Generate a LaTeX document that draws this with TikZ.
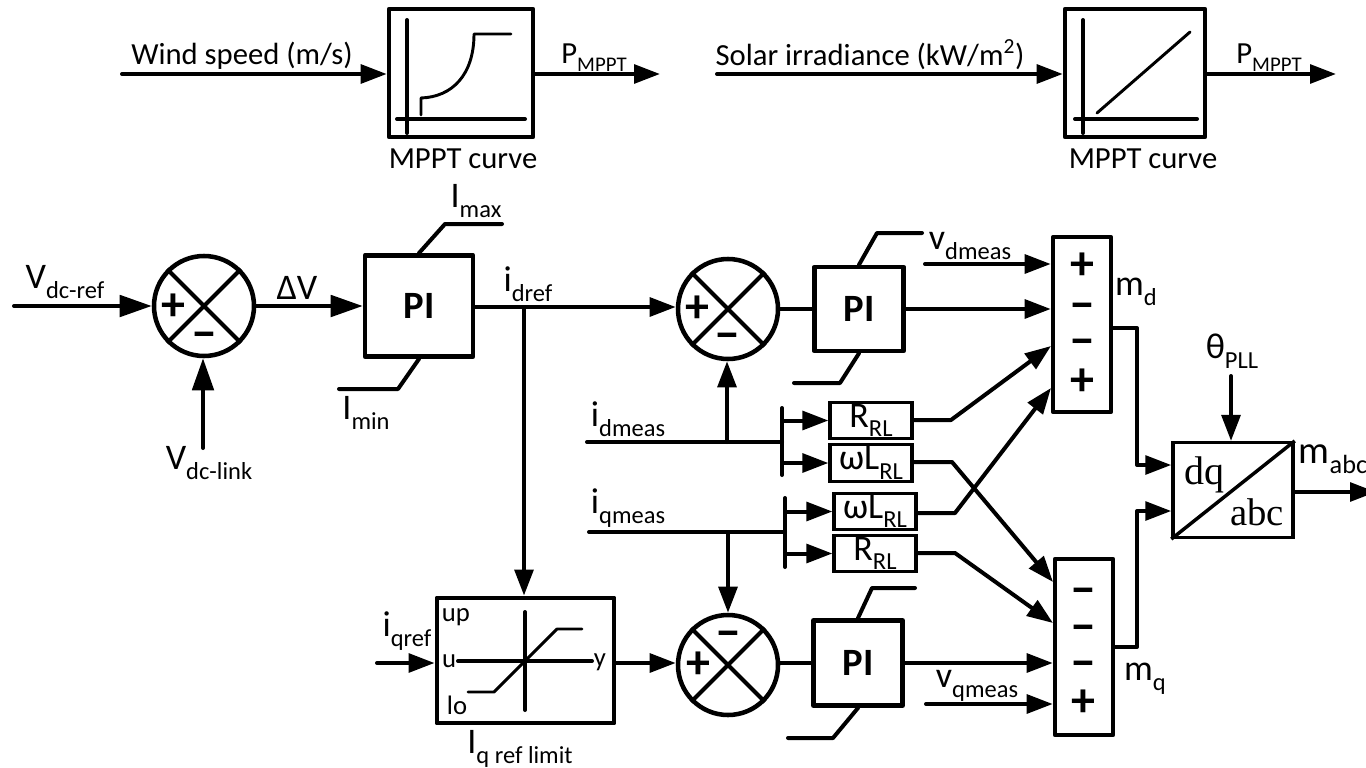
\documentclass[tikz,border=0pt]{standalone}
\usepackage{fontspec}
\setmainfont{Carlito}
\newfontfamily\timesf{Liberation Serif}
\usetikzlibrary{arrows.meta}
\newcommand\sbs[1]{\raisebox{-0.27em}{\scalebox{0.68}{#1}}}
\tikzset{
  x=0.75pt,y=-0.75pt,
  wire/.style={line width=3pt,line cap=round,line join=round},
  thinwire/.style={line width=2.2pt,line cap=round,line join=round},
  arr/.style={wire,-{Triangle[length=19.5pt,width=14pt]}},
  bigarr/.style={wire,-{Triangle[length=24pt,width=16pt]}},
  blockbox/.style={draw,line width=3.4pt,rectangle,inner sep=0pt,line join=round},
  gainbox/.style={draw,line width=2.4pt,rectangle,inner sep=0pt,font=\fontsize{27}{27}\selectfont},
  sumcircle/.style={draw,line width=3.4pt,circle,inner sep=0pt,minimum size=75pt},
  txt/.style={inner sep=0pt,font=\fontsize{23}{23}\selectfont},
  lbl/.style={inner sep=0pt,font=\fontsize{27}{27}\selectfont},
  sign/.style={inner sep=0pt,text height=20pt,text depth=0pt,font=\fontsize{36}{36}\selectfont\bfseries},
  pitext/.style={font=\fontsize{29}{29}\selectfont\bfseries},
}
\begin{document}
\begin{tikzpicture}
\useasboundingbox (0,0) rectangle (1366,767);

% ---------- MPPT blocks ----------
\node[blockbox,minimum width=108pt,minimum height=96pt] (mA) at (461,73) {};
\node[blockbox,minimum width=105pt,minimum height=96pt] (mB) at (1135,73) {};
\draw[wire] (407,20) -- (407,133) (397,119) -- (525,119);
\draw[thinwire] (421,115) -- (421,98) .. controls (452,97) and (474,75) .. (474,34) -- (511,34);
\draw[wire] (1083,20) -- (1083,133) (1075,119) -- (1197,119);
\draw[thinwire] (1097,113) -- (1190,32);

\coordinate (wA) at (122,74);
\coordinate (oA) at (660,74);
\coordinate (wB) at (717,74);
\coordinate (oB) at (1336,74);
\draw[arr] (wA) -- (wA -| mA.west);
\draw[arr] (mA.east |- oA) -- (oA);
\draw[arr] (wB) -- (wB -| mB.west);
\draw[arr] (mB.east |- oB) -- (oB);

\node[txt] (twind) at (242,56) {Wind speed (m/s)};
\node[txt] (tsolar) at (870,55) {Solar irradiance (kW/m\textsuperscript{2})};
\node[txt] (tpa) at (594,58) {P\sbs{MPPT}};
\node[txt] (tpb) at (1269,58) {P\sbs{MPPT}};
\node[txt] (tca) at (463,159) {MPPT curve};
\node[txt] (tcb) at (1143,159) {MPPT curve};

% ---------- sum junctions ----------
\node[sumcircle] (s1) at (204,306) {};
\node[sumcircle] (s2) at (728,309) {};
\node[sumcircle] (s3) at (728,665) {};
\foreach \c in {s1,s2,s3}{
  \draw[line width=3pt] (\c.45) -- (\c.225) (\c.135) -- (\c.315);
}
\node[sign] (s1p) at (173,307) {+};
\node[sign] (s1m) at (204,336) {−};
\node[sign] (s2p) at (697,309) {+};
\node[sign] (s2m) at (727,337) {−};
\node[sign] (s3p) at (698,665) {+};
\node[sign] (s3m) at (728,635) {−};

% ---------- PI blocks ----------
\node[blockbox,pitext,minimum width=81pt,minimum height=76pt] (pi1) at (419,306) {PI};
\node[blockbox,pitext,minimum width=67pt,minimum height=63pt] (pi2) at (859,309) {PI};
\node[blockbox,pitext,minimum width=67pt,minimum height=64pt] (pi3) at (858,663) {PI};

\coordinate (p1ta) at (445,224); \coordinate (p1tb) at (502,224);
\coordinate (p1ba) at (398,389); \coordinate (p1bb) at (339,389);
\coordinate (p2ta) at (877,233); \coordinate (p2tb) at (922,233);
\coordinate (p2ba) at (840,383); \coordinate (p2bb) at (794,383);
\coordinate (p3ta) at (872,588); \coordinate (p3tb) at (915,588);
\coordinate (p3ba) at (833,738); \coordinate (p3bb) at (788,738);
\draw[wire] (pi1.north) -- (p1ta) -- (p1tb);
\draw[wire] (pi1.south) -- (p1ba) -- (p1bb);
\draw[wire] (pi2.north) -- (p2ta) -- (p2tb);
\draw[wire] (pi2.south) -- (p2ba) -- (p2bb);
\draw[wire] (pi3.north) -- (p3ta) -- (p3tb);
\draw[wire] (pi3.south) -- (p3ba) -- (p3bb);

% ---------- limiter ----------
\node[blockbox,minimum width=133pt,minimum height=94pt] (lim) at (525.5,660.5) {};
\draw[wire] (525,612) -- (525,710) (458,661) -- (592,661);
\draw[thinwire] (468,692) -- (494,692) -- (557,629) -- (582,629);
\node[inner sep=0pt,font=\fontsize{20}{20}\selectfont] (lup) at (456,617) {up};
\node[inner sep=0pt,font=\fontsize{20}{20}\selectfont] (lu) at (449,661) {u};
\node[inner sep=0pt,font=\fontsize{20}{20}\selectfont] (llo) at (457,705) {lo};
\node[inner sep=0pt,font=\fontsize{20}{20}\selectfont] (ly) at (600,662) {y};

% ---------- sum bars ----------
\node[blockbox,minimum width=43.5pt,minimum height=131pt] (b1) at (1082,324.5) {};
\node[blockbox,minimum width=43.5pt,minimum height=132pt] (b2) at (1084,647) {};
\node[sign] (b1a) at (1082,266) {+};
\node[sign] (b1b) at (1082,307) {−};
\node[sign] (b1c) at (1082,343) {−};
\node[sign] (b1d) at (1082,382) {+};
\node[sign] (b2a) at (1083,592) {−};
\node[sign] (b2b) at (1083,629) {−};
\node[sign] (b2c) at (1083,665) {−};
\node[sign] (b2d) at (1083,703) {+};

% ---------- gains ----------
\node[gainbox,minimum width=61.5pt,minimum height=27.5pt] (g1) at (871,420.5) {R\sbs{RL}};
\node[gainbox,minimum width=61.5pt,minimum height=28pt] (g2) at (871,463) {ωL\sbs{RL}};
\node[gainbox,minimum width=61.5pt,minimum height=27.5pt] (g3) at (875,511.5) {ωL\sbs{RL}};
\node[gainbox,minimum width=61.5pt,minimum height=27.5pt] (g4) at (875,553.5) {R\sbs{RL}};

% ---------- transform ----------
\node[draw,line width=2.6pt,rectangle,inner sep=0pt,minimum width=90pt,minimum height=71pt] (dq) at (1233,490) {};
\draw[line width=2.6pt] (dq.north east) -- (dq.south west);
\node[inner sep=0pt,font=\timesf\fontsize{30}{30}\selectfont] (tdq) at (1204,475) {dq};
\node[inner sep=0pt,font=\timesf\fontsize{29}{29}\selectfont] (tabc) at (1257,512) {abc};

% ---------- free ends and ports ----------
\coordinate (vref) at (14,306);
\coordinate (vlink) at (203,448);
\coordinate (jd) at (524,307);
\coordinate (idm) at (587,442);
\coordinate (idj) at (727,442);
\coordinate (iqm) at (589,532);
\coordinate (iqj) at (728,532);
\coordinate (busd) at (782,442);
\coordinate (busda) at (782,408);
\coordinate (busdb) at (782,475);
\coordinate (busq) at (785,532);
\coordinate (busqa) at (785,498);
\coordinate (busqb) at (785,567);
\coordinate (iqr) at (377,663);
\coordinate (vdm) at (925,264);
\coordinate (vqm) at (926,704);
\coordinate (th) at (1231,376);
\coordinate (mab) at (1376,492);

% ---------- connectors ----------
\draw[bigarr] (vref) -- (s1.west);
\draw[bigarr] (s1.east) -- (pi1.west);
\draw[bigarr] (vlink) -- (vlink |- s1.south);
\draw[arr] (pi1.east |- jd) -- (s2.west |- jd);
\draw[arr] (jd) -- (jd |- lim.north);
\draw[arr] (iqr) -- (iqr -| lim.west);
\draw[arr] (lim.east |- iqr) -- (s3.west |- iqr);
\draw[wire] (s2.east) -- (pi2.west);
\draw[wire] (s3.east |- pi3) -- (pi3.west);
\draw[arr] (pi2.east) -- (b1.west |- pi2);
\draw[arr] (pi3.east) -- (b2.west |- pi3);
\draw[arr] (vdm) -- (vdm -| b1.west);
\draw[arr] (vqm) -- (vqm -| b2.west);

\draw[wire] (idm) -- (busd);
\draw[wire] (iqm) -- (busq);
\draw[arr] (idj) -- (idj |- s2.south);
\draw[arr] (iqj) -- (iqj |- s3.north);
\draw[wire] (busda) -- (busdb);
\draw[wire] (busqa) -- (busqb);
\draw[arr] (busda |- g1) -- (g1.west);
\draw[arr] (busdb |- g2) -- (g2.west);
\draw[arr] (busqa |- g3) -- (g3.west);
\draw[arr] (busqb |- g4) -- (g4.west);

\coordinate (e1) at (951,420);
\coordinate (e2) at (952,462);
\coordinate (e3) at (955,513);
\coordinate (e4) at (955,553);
\coordinate (t1) at (1051,346);
\coordinate (t2) at (1053,582);
\coordinate (t3) at (1051,388);
\coordinate (t4) at (1053,623);
\draw[arr] (g1.east |- e1) -- (e1) -- (t1);
\draw[arr] (g2.east |- e2) -- (e2) -- (t2);
\draw[arr] (g3.east |- e3) -- (e3) -- (t3);
\draw[arr] (g4.east |- e4) -- (e4) -- (t4);

\coordinate (d1) at (1137,328);
\coordinate (d2) at (1137,465);
\coordinate (q1) at (1137,647);
\coordinate (q2) at (1137,511);
\draw[arr] (b1.east |- d1) -- (d1) -- (d2) -- (d2 -| dq.west);
\draw[arr] (b2.east |- q1) -- (q1) -- (q2) -- (q2 -| dq.west);
\draw[arr] (th) -- (th |- dq.north);
\draw[arr] (dq.east |- mab) -- (mab);

% ---------- labels ----------
\node[lbl] (lvref) at (65,282) {V\sbs{dc-ref}};
\node[lbl] (ldv) at (297,288) {ΔV};
\node[lbl] (lvlink) at (209,463) {V\sbs{dc-link}};
\node[lbl] (limax) at (476,201) {I\sbs{max}};
\node[lbl] (limin) at (366,413) {I\sbs{min}};
\node[lbl] (lidref) at (528,284) {i\sbs{dref}};
\node[lbl] (lidm) at (628,419) {i\sbs{dmeas}};
\node[lbl] (liqm) at (628,508) {i\sbs{qmeas}};
\node[lbl] (liqr) at (407,631) {i\sbs{qref}};
\node[lbl] (lilim) at (520,749) {I\sbs{q ref limit}};
\node[lbl] (lvd) at (970,246) {v\sbs{dmeas}};
\node[lbl] (lvq) at (977,686) {v\sbs{qmeas}};
\node[lbl] (lmd) at (1136,292) {m\sbs{d}};
\node[lbl] (lmq) at (1145,679) {m\sbs{q}};
\node[lbl] (lth) at (1232,351) {θ\sbs{PLL}};
\node[lbl,font=\fontsize{29}{29}\selectfont] (lma) at (1333,459) {m\sbs{abc}};
\end{tikzpicture}
\end{document}
